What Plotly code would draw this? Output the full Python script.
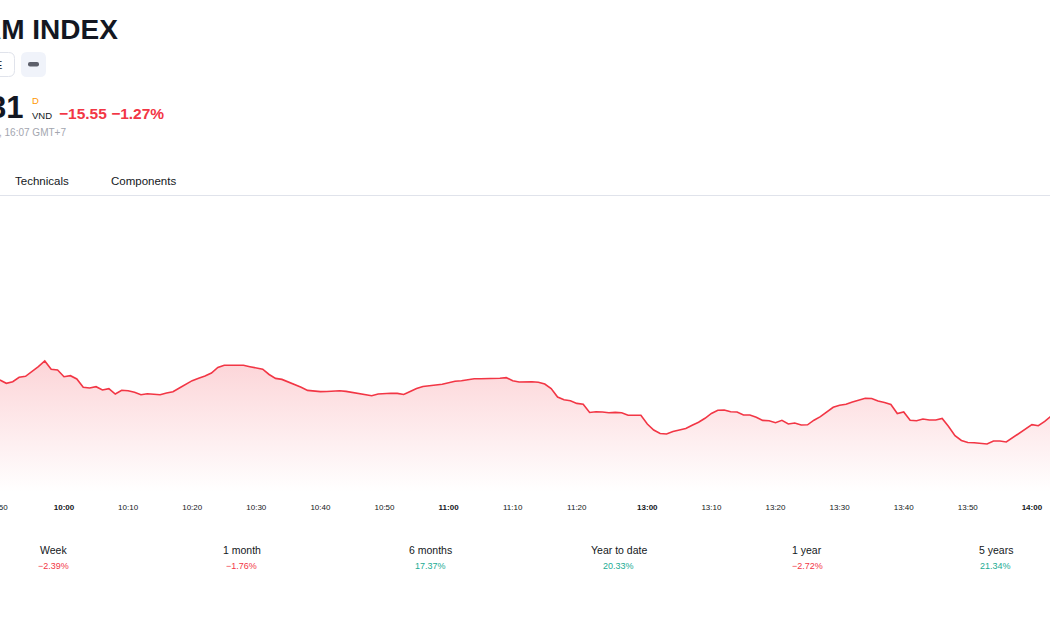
import plotly.graph_objects as go

W, H = 1050, 630

# ---------------- data ----------------
# trading minutes shown (morning session 09:50-11:30, afternoon 13:00-14:04)
times = ([f"{h:02d}:{m:02d}" for h in (9, 10, 11) for m in range(60)
          if ("09:50" <= f"{h:02d}:{m:02d}" <= "11:30")] +
         [f"{h:02d}:{m:02d}" for h in (13, 14) for m in range(60)
          if ("13:00" <= f"{h:02d}:{m:02d}" <= "14:04")])

prices = [
    1225.00, 1224.18, 1224.58, 1225.68, 1225.93, 1227.08, 1228.33, 1229.75, 1227.68, 1227.50,
    1225.83, 1226.08, 1225.25, 1223.18, 1223.00, 1223.33, 1222.50, 1222.83, 1221.50, 1222.43,
    1222.33, 1221.93, 1221.33, 1221.58, 1221.50, 1221.33, 1221.75, 1222.08, 1223.00, 1224.00,
    1224.83, 1225.45, 1226.00, 1226.75, 1228.13, 1228.70, 1228.75, 1228.75, 1228.68, 1228.33,
    1228.08, 1227.70, 1226.38, 1225.40, 1225.15, 1224.55, 1223.75, 1223.20, 1222.40, 1222.20,
    1222.10, 1222.13, 1222.23, 1222.30, 1222.15, 1221.90, 1221.65, 1221.35, 1221.08, 1221.50,
    1221.63, 1221.68, 1221.65, 1221.38, 1222.13, 1222.88, 1223.38, 1223.63, 1223.75, 1223.93,
    1224.38, 1224.68, 1224.83, 1225.15, 1225.30, 1225.33, 1225.33, 1225.33, 1225.43, 1225.58,
    1224.83, 1224.50, 1224.63, 1224.58, 1224.43, 1224.00, 1222.88, 1220.75, 1220.05, 1219.83,
    1219.15, 1218.93, 1216.88, 1217.05, 1217.00, 1216.80, 1216.90, 1216.83, 1216.20, 1216.10,
    1216.18,
    1214.00, 1212.50, 1211.63, 1211.50, 1212.13, 1212.50, 1212.88, 1213.68, 1214.43, 1215.43,
    1216.63, 1217.43, 1217.50, 1217.08, 1217.00, 1216.25, 1216.25, 1215.70, 1214.90, 1214.80,
    1214.33, 1214.93, 1214.00, 1214.25, 1213.75, 1213.80, 1214.95, 1215.85, 1217.08, 1218.18,
    1218.70, 1218.95, 1219.50, 1219.95, 1220.45, 1220.38, 1219.75, 1219.38, 1218.88, 1216.63,
    1217.00, 1214.93, 1214.83, 1215.25, 1215.00, 1215.00, 1215.38, 1213.38, 1211.08, 1209.88,
    1209.38, 1209.33, 1209.18, 1209.00, 1209.75, 1209.75, 1209.50, 1210.63, 1211.63, 1212.75,
    1213.83, 1213.58, 1214.63, 1216.00,
]

tick_labels = ["09:50", "10:00", "10:10", "10:20", "10:30", "10:40", "10:50", "11:00",
               "11:10", "11:20", "13:00", "13:10", "13:20", "13:30", "13:40", "13:50", "14:00"]
bold_ticks = ["10:00", "11:00", "13:00", "14:00"]

perf_periods = ["Week", "1 month", "6 months", "Year to date", "1 year", "5 years"]
perf_values = [-2.39, -1.76, 17.37, 20.33, -2.72, 21.34]

RED = "#F23645"
GREEN = "#22AB94"
TXT = "#131722"

xs = list(range(len(times)))
tickvals = [times.index(t) for t in tick_labels]


def fmt_tick(t):
    s = t[1:] if t.startswith("0") else t
    return f"<b>{s}</b>" if t in bold_ticks else s


ticktext = [fmt_tick(t) for t in tick_labels]

fig = go.Figure()
fig.add_trace(go.Scatter(
    x=xs, y=prices, mode="lines",
    line=dict(color=RED, width=1.6),
    fill="tozeroy",
    fillgradient=dict(type="vertical",
                      colorscale=[[0, "rgba(242,54,69,0)"], [1, "rgba(242,54,69,0.21)"]],
                      start=1197, stop=max(prices)),
    hoverinfo="skip",
))


def X(v):
    return v / W


def Y(v):
    return 1 - v / H


def rrect(x0, y0, x1, y1, r):
    return (f"M {X(x0+r)},{Y(y0)} L {X(x1-r)},{Y(y0)} Q {X(x1)},{Y(y0)} {X(x1)},{Y(y0+r)} "
            f"L {X(x1)},{Y(y1-r)} Q {X(x1)},{Y(y1)} {X(x1-r)},{Y(y1)} L {X(x0+r)},{Y(y1)} "
            f"Q {X(x0)},{Y(y1)} {X(x0)},{Y(y1-r)} L {X(x0)},{Y(y0+r)} Q {X(x0)},{Y(y0)} {X(x0+r)},{Y(y0)} Z")


shapes = [
    dict(type="path", xref="paper", yref="paper", path=rrect(-20, 52.5, 14.5, 76.5, 6),
         line=dict(color="#E0E3EB", width=1), fillcolor="white"),
    dict(type="path", xref="paper", yref="paper", path=rrect(21, 52, 46, 77, 6),
         line=dict(width=0), fillcolor="#F0F3FA"),
    dict(type="path", xref="paper", yref="paper", path=rrect(28, 62, 39, 66.5, 2),
         line=dict(width=0), fillcolor="#5D606B"),
    dict(type="line", xref="paper", yref="paper", x0=0, x1=1, y0=Y(195.5), y1=Y(195.5),
         line=dict(color="#E0E3EB", width=1)),
]

BASE = "Liberation Sans, Arial, sans-serif"
ann = []


def add(text, x, y, size, color=TXT, xanchor="left", family=BASE):
    ann.append(dict(text=text, x=X(x), y=Y(y), xref="paper", yref="paper",
                    xanchor=xanchor, yanchor="middle", showarrow=False,
                    font=dict(size=size, color=color, family=family)))


add("<b>AM INDEX</b>", 119.5, 29.5, 28, xanchor="right")
add("E", 3.5, 65, 11, xanchor="right")
add("<b>31</b>", 24.5, 107, 31, xanchor="right")
add("D", 29.5, 100, 9.5, color="#FF9800")
add("VND", 29.5, 115.5, 9.5)
add("<b>\u221215.55 \u22121.27%</b>", 56.5, 113.5, 15.5, color=RED)
add(", 16:07 GMT+7", 67.5, 132.5, 10, color="#A3A6AF", xanchor="right")
add("Technicals", 12.5, 181.5, 11.5)
add("Components", 108.5, 181.5, 11.5)

centers = [53, 241.5, 430, 618.5, 807, 995.5]
for c, p, v in zip(centers, perf_periods, perf_values):
    add(p, c, 550, 10.5, xanchor="center")
    txt = (f"\u2212{abs(v):.2f}%" if v < 0 else f"{v:.2f}%")
    add(txt, c, 566, 9, color=(RED if v < 0 else GREEN), xanchor="center")

ppm = 6.41
fig.update_layout(
    width=W, height=H,
    margin=dict(l=0, r=0, t=0, b=0, autoexpand=False),
    paper_bgcolor="white", plot_bgcolor="white",
    showlegend=False,
    hovermode=False,
    shapes=shapes,
    annotations=ann,
    xaxis=dict(range=[10 - 64 / ppm, 10 + (W - 64) / ppm],
               tickvals=tickvals, ticktext=ticktext,
               showgrid=False, zeroline=False, showline=False, ticks="",
               tickfont=dict(size=8, color=TXT, family=BASE),
               ticklabeloverflow="allow", ticklabelstandoff=9,
               automargin=False, fixedrange=True),
    yaxis=dict(range=[1197, 1271], domain=[(H - 492) / H, (H - 196) / H],
               visible=False, automargin=False, fixedrange=True),
)

fig.write_html("out.html", config={"displayModeBar": False})
